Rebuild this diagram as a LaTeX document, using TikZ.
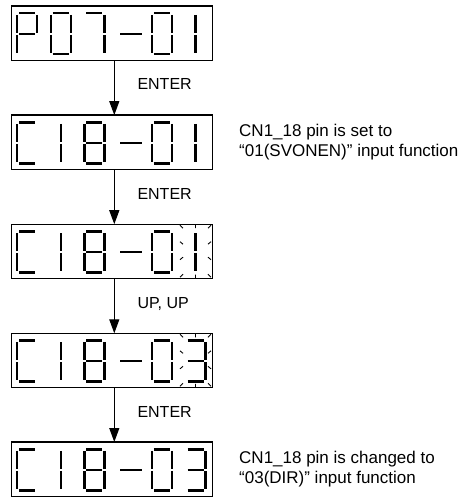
\documentclass[tikz,border=0pt]{standalone}
\usepackage{fontspec}
\setmainfont{Liberation Sans}
\usetikzlibrary{arrows.meta}
\tikzset{
  seg/.style={line width=2.4pt},
  ray/.style={line width=0.9pt},
  panel/.style={draw, line width=1.3pt, minimum width=201pt, minimum height=54.5pt, inner sep=0pt, outer sep=0pt},
  flow/.style={line width=1.2pt, -{Triangle[length=14pt,width=10pt]}},
  key/.style={font=\fontsize{16}{19}\selectfont, anchor=base west, inner sep=0pt},
  note/.style={font=\fontsize{17}{20}\selectfont, anchor=base west, inner sep=0pt},
}
\def\segA{\draw[seg] (2,0) -- (18,0);}
\def\segB{\draw[seg] (20,1.5) -- (20,19.5);}
\def\segC{\draw[seg] (20,21.5) -- (20,39.5);}
\def\segD{\draw[seg] (2,41) -- (18,41);}
\def\segE{\draw[seg] (0,21.5) -- (0,39.5);}
\def\segF{\draw[seg] (0,1.5) -- (0,19.5);}
\def\segG{\draw[seg] (2,20.5) -- (18,20.5);}
\def\segM{\draw[seg] (2,20.5) -- (23.5,20.5);}
\def\segI{\draw[seg] (10,1.5) -- (10,19.5) (10,21.5) -- (10,39.5);}
\newcommand\sevdigit[3]{\begin{scope}[shift={(#1,#2)}]\foreach \s in {#3}{\csname seg\s\endcsname}\end{scope}}
\newcommand\blinkrays[2]{\begin{scope}[shift={(#1,#2)}]
  \draw[ray] (-5.5,1) -- (-2.5,4) (10,0.8) -- (10,4) (25.5,1) -- (22.5,4)
    (-5.5,17.5) -- (-2.5,20) (-5.5,35.5) -- (-2.5,33)
    (25.5,17.5) -- (22.5,20) (25.5,35.5) -- (22.5,33)
    (-5.5,53) -- (-2.5,50) (10,50.5) -- (10,53.7) (25.5,53) -- (22.5,50);
\end{scope}}
\begin{document}
\begin{tikzpicture}[x=1pt,y=-1pt]
\useasboundingbox (0,0) rectangle (472,497);
% panels
\node[panel] (b1) at (112.2,33.25) {};
\node[panel] (b2) at (112.2,142.35) {};
\node[panel] (b3) at (112.2,251.45) {};
\node[panel] (b4) at (112.2,360.55) {};
\node[panel] (b5) at (112.2,469.25) {};
% digits panel 1: P07-01
\sevdigit{17}{13.3}{A,B,F,G,E}
\sevdigit{50.7}{13.3}{A,B,C,D,E,F}
\sevdigit{84.4}{13.3}{A,B,C}
\sevdigit{118.1}{13.3}{M}
\sevdigit{151.8}{13.3}{A,B,C,D,E,F}
\sevdigit{185.5}{13.3}{I}
% panel 2: C18-01
\sevdigit{17}{122.4}{A,F,E,D}
\sevdigit{50.7}{122.4}{I}
\sevdigit{84.4}{122.4}{A,B,C,D,E,F,G}
\sevdigit{118.1}{122.4}{M}
\sevdigit{151.8}{122.4}{A,B,C,D,E,F}
\sevdigit{185.5}{122.4}{I}
% panel 3: C18-01 blinking
\sevdigit{17}{231.5}{A,F,E,D}
\sevdigit{50.7}{231.5}{I}
\sevdigit{84.4}{231.5}{A,B,C,D,E,F,G}
\sevdigit{118.1}{231.5}{M}
\sevdigit{151.8}{231.5}{A,B,C,D,E,F}
\sevdigit{185.5}{231.5}{I}
\blinkrays{185.5}{224.2}
% panel 4: C18-03 blinking
\sevdigit{17}{340.6}{A,F,E,D}
\sevdigit{50.7}{340.6}{I}
\sevdigit{84.4}{340.6}{A,B,C,D,E,F,G}
\sevdigit{118.1}{340.6}{M}
\sevdigit{151.8}{340.6}{A,B,C,D,E,F}
\sevdigit{185.5}{340.6}{A,B,C,D,G}
\blinkrays{185.5}{333.3}
% panel 5: C18-03
\sevdigit{17}{449.3}{A,F,E,D}
\sevdigit{50.7}{449.3}{I}
\sevdigit{84.4}{449.3}{A,B,C,D,E,F,G}
\sevdigit{118.1}{449.3}{M}
\sevdigit{151.8}{449.3}{A,B,C,D,E,F}
\sevdigit{185.5}{449.3}{A,B,C,D,G}
% arrows
\draw[flow] ([xshift=2.1pt]b1.south) -- ([xshift=2.1pt]b2.north);
\draw[flow] ([xshift=2.1pt]b2.south) -- ([xshift=2.1pt]b3.north);
\draw[flow] ([xshift=2.1pt]b3.south) -- ([xshift=2.1pt]b4.north);
\draw[flow] ([xshift=2.1pt]b4.south) -- ([xshift=2.1pt]b5.north);
% key labels
\node[key] (k1) at (137.3,90) {ENTER};
\node[key] (k2) at (137.3,199.3) {ENTER};
\node[key] (k3) at (137.3,308.3) {UP, UP};
\node[key] (k4) at (137.3,417) {ENTER};
% notes
\node[note] (n1a) at (239,137) {CN1\_18 pin is set to};
\node[note] (n1b) at (239,156.3) {“01(SVONEN)” input function};
\node[note] (n2a) at (239,463.5) {CN1\_18 pin is changed to};
\node[note] (n2b) at (239,483) {“03(DIR)” input function};
\end{tikzpicture}
\end{document}
